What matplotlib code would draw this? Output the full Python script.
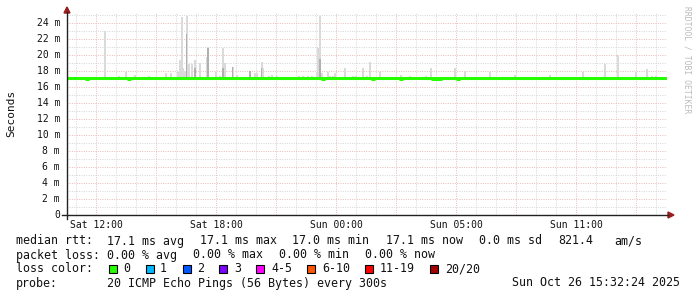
import matplotlib
matplotlib.use("Agg")
import matplotlib.pyplot as plt
from matplotlib.lines import Line2D
from matplotlib.patches import Polygon, Rectangle
import numpy as np

W, H = 697, 297
plt.rcParams['font.family'] = ['DejaVu Sans Mono']

# ---------------- data (hours since Sat 00:00, values in ms) ----------------
t_start, t_end = 10.55, 40.55
x_ticks = [12, 18, 24, 30, 36]
x_labels = ["Sat 12:00", "Sat 18:00", "Sun 00:00", "Sun 05:00", "Sun 11:00"]
y_ticks = [0, 2, 4, 6, 8, 10, 12, 14, 16, 18, 20, 22, 24]
y_labels = ["0"] + ["%d m" % v for v in y_ticks[1:]]

# smoke spikes: time, max ping, darker (dense) portion top
smoke_t = [12.45, 13.15, 13.50, 13.95, 14.65, 15.50, 15.75, 16.08, 16.20, 16.28,
           16.35, 16.43, 16.53, 16.63, 16.78, 16.95, 17.20, 17.53, 17.60, 17.98,
           18.20, 18.35, 18.45, 18.83, 19.03, 19.70, 19.95, 20.05, 20.28, 20.35,
           20.65, 20.78, 21.05, 22.15, 22.35, 22.60, 22.78, 23.03, 23.10, 23.20,
           23.30, 23.58, 23.68, 23.83, 23.95, 24.45, 24.85, 24.98, 25.35, 25.53,
           25.70, 26.20, 27.25, 27.70, 28.50, 28.75, 29.95, 30.45, 31.70, 32.95,
           34.70, 36.35, 37.45, 38.10, 38.98, 39.55, 39.80, 40.00]
smoke_max = [23.0, 17.4, 17.9, 17.5, 17.3, 17.7, 17.7, 17.8, 19.4, 24.75,
             18.4, 18.0, 24.9, 18.8, 18.9, 19.4, 19.0, 19.7, 21.0, 17.8,
             17.4, 20.9, 19.0, 18.5, 17.5, 18.0, 17.7, 17.7, 19.1, 18.3,
             17.3, 17.5, 17.3, 17.3, 17.4, 17.3, 17.4, 17.8, 20.8, 24.9,
             17.7, 17.9, 17.4, 17.4, 17.7, 18.3, 17.3, 17.4, 18.4, 17.3,
             19.1, 17.9, 17.5, 17.4, 17.3, 18.3, 18.3, 18.0, 17.8, 17.5,
             17.5, 17.8, 18.8, 20.0, 17.8, 18.2, 17.4, 17.4]
smoke_dense = [0, 0, 0, 0, 0, 0, 0, 0, 0, 0,
               0, 0, 22.6, 0, 0, 18.4, 0, 0, 20.9, 0,
               0, 18.4, 0, 18.5, 0, 18.0, 0, 0, 18.3, 0,
               0, 0, 0, 0, 0, 0, 0, 0, 0, 19.5,
               0, 0, 0, 0, 0, 0, 0, 0, 0, 0,
               0, 0, 0, 0, 0, 0, 0, 0, 0, 0,
               0, 0, 0, 0, 0, 0, 0, 0]

# median rtt (step series)
median_t = [10.55, 11.50, 11.62, 13.60, 13.72, 23.32, 23.42, 25.80, 25.92, 27.22,
            27.30, 28.80, 28.88, 29.00, 29.08, 29.17, 29.25, 30.05, 30.15, 40.55]
median_v = [17.1, 17.0, 17.1, 17.0, 17.1, 17.0, 17.1, 17.0, 17.1, 17.0,
            17.1, 17.0, 17.1, 17.0, 17.1, 17.0, 17.1, 17.0, 17.1, 17.1]

loss_labels = ["0", "1", "2", "3", "4-5", "6-10", "11-19", "20/20"]
loss_colors = ["#26ff00", "#00b8ff", "#0059ff", "#7e00ff", "#ff00ff", "#ff5500", "#ff0000", "#a10000"]

# ---------------- figure ----------------
fig = plt.figure(figsize=(W / 100, H / 100), dpi=100)
fig.patch.set_facecolor("white")

def fx(px):
    return px / W

def fy(py):
    return 1 - py / H

ax_l, ax_r, ax_b, ax_t = 67, 667, 215, 13
ax = fig.add_axes([fx(ax_l), fy(ax_b), (ax_r - ax_l) / W, (ax_b - ax_t) / H])
ax.set_xlim(t_start, t_end)
ax.set_ylim(0, (ax_b - ax_t) / 8.01)
for s in ax.spines.values():
    s.set_visible(False)
ax.set_xticks([])
ax.set_yticks([])
ax.patch.set_alpha(0)

# grid
minor_x = np.arange(11, 41, 1)
for xv in minor_x:
    major = (xv % 3 == 0)
    ax.axvline(xv, color="#eab8b8" if major else "#d4d4d4", lw=0.7,
               linestyle=(0, (1, 1.4)), zorder=1)
for yv in np.arange(1, 26, 1):
    major = (yv % 2 == 0)
    ax.axhline(yv, color="#eab8b8" if major else "#d4d4d4", lw=0.7,
               linestyle=(0, (1, 1.4)), zorder=1)

# smoke
bw = 0.11
for t, m, d in zip(smoke_t, smoke_max, smoke_dense):
    ax.bar(t, m - 17.0, bottom=17.0, width=bw, color="#dadada", linewidth=0, zorder=2)
    if d:
        ax.bar(t, d - 17.0, bottom=17.0, width=bw * 0.8, color="#b0b0b0", linewidth=0, zorder=3)

# median
ax.step(median_t, median_v, where="post", color="#26ff00", lw=2.2, zorder=4,
        solid_capstyle="butt")

# axes lines with arrows
fig.add_artist(Line2D([fx(62), fx(668)], [fy(215), fy(215)], color="#222222", lw=1.0))
fig.add_artist(Line2D([fx(67), fx(67)], [fy(219), fy(12)], color="#222222", lw=1.0))
fig.add_artist(Polygon([[fx(668), fy(212)], [fx(674), fy(215)], [fx(668), fy(218)]],
                       closed=True, color="#9b1c1c", transform=fig.transFigure))
fig.add_artist(Polygon([[fx(64), fy(13)], [fx(67), fy(7)], [fx(70), fy(13)]],
                       closed=True, color="#9b1c1c", transform=fig.transFigure))

# ticks labels
for t, lab in zip(x_ticks, x_labels):
    px = ax_l + (t - t_start) / (t_end - t_start) * (ax_r - ax_l)
    fig.text(fx(px), fy(225), lab, ha="center", va="center", fontsize=7.0, color="#111111")
for v, lab in zip(y_ticks, y_labels):
    py = ax_b - v * 8.01
    fig.text(fx(60), fy(py), lab, ha="right", va="center", fontsize=7.0, color="#111111")

fig.text(fx(11), fy(113), "Seconds", rotation=90, ha="center", va="center",
         fontsize=8.0, color="#111111")
fig.text(fx(687), fy(60), "RRDTOOL / TOBI OETIKER", rotation=-90, ha="center",
         va="center", fontsize=5.8, color="#bbbbbb")

fs = 8.4
def row(py, items):
    for px, s in items:
        fig.text(fx(px), fy(py), s, ha="left", va="center", fontsize=fs, color="#111111")

row(241, [(16, "median rtt:"), (107, "17.1 ms avg"), (200, "17.1 ms max"),
          (292, "17.0 ms min"), (386, "17.1 ms now"), (479, "0.0 ms sd"),
          (558, "821.4"), (614, "am/s")])
row(255, [(16, "packet loss:"), (107, "0.00 % avg"), (193, "0.00 % max"),
          (279, "0.00 % min"), (365, "0.00 % now")])
row(269, [(16, "loss color:")])
box_x = [109, 146, 183, 219, 256, 307, 365, 430]
lab_x = [123, 160, 197, 234, 271, 322, 380, 445]
for bx, lx, lab, c in zip(box_x, lab_x, loss_labels, loss_colors):
    fig.add_artist(Rectangle((fx(bx), fy(272.5)), 7.5 / W, 7.5 / H, facecolor=c,
                             edgecolor="black", lw=0.8, transform=fig.transFigure))
    fig.text(fx(lx), fy(269), lab, ha="left", va="center", fontsize=fs, color="#111111")
row(283, [(16, "probe:"), (107, "20 ICMP Echo Pings (56 Bytes) every 300s")])
fig.text(fx(680), fy(283), "Sun Oct 26 15:32:24 2025", ha="right", va="center",
         fontsize=fs, color="#111111")

fig.savefig("out.png", dpi=100, facecolor="white")
